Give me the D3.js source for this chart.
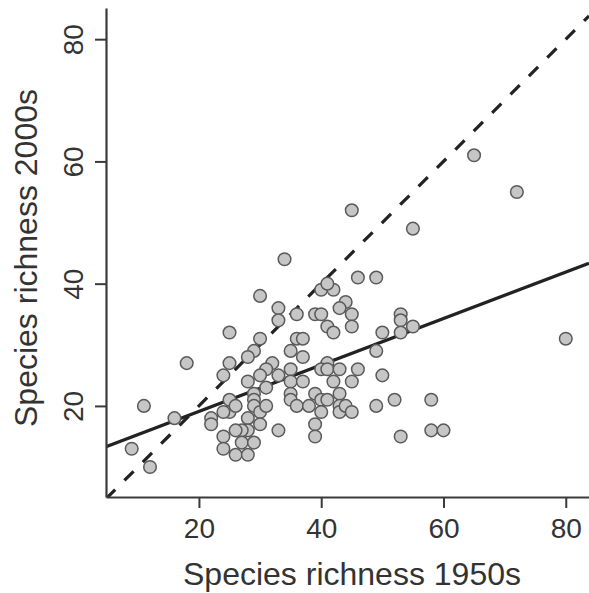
<!DOCTYPE html>
<html><head><meta charset="utf-8">
<script src="https://cdn.jsdelivr.net/npm/d3@7"></script>
<style>
html,body{margin:0;padding:0;background:#fff;}
svg text{font-family:"Liberation Sans",Arial,Helvetica,sans-serif;fill:#333;}
</style></head>
<body><svg id="c" width="589" height="593"></svg>
<script>
// 1950s richness (x) and 2000s richness (y) per site
const richness1950s = [9,12,11,16,18,25,30,34,45,55,65,72,80,46,49,40,42,41,44,43,45,45,39,40,41,42,53,53,55,53,50,49,50,52,58,53,58,60,49,46,45,
  33,33,36,30,36,37,35,37,29,28,25,32,31,30,33,35,35,37,35,35,36,24,28,29,29,29,30,31,28,30,28,27,26,24,27,29,24,26,28,33,25,25,26,24,22,22,
  41,40,41,43,42,39,43,40,41,38,40,43,43,44,45,39,39,31];
const richness2000s = [13,10,20,18,27,32,38,44,52,49,61,55,31,41,41,39,39,40,37,36,35,33,35,35,33,32,35,34,33,32,32,29,25,21,21,15,16,16,20,26,24,
  36,34,35,31,31,31,29,28,29,28,27,27,26,25,25,26,24,24,22,21,20,25,24,22,21,20,19,20,18,17,16,16,16,15,14,14,13,12,12,16,21,19,20,19,18,17,
  27,26,26,26,24,22,22,21,21,20,19,20,19,20,19,17,15,23];
const xTicks = [20,40,60,80];
const yTicks = [20,40,60,80];
const xDomain = [4.8, 83.8];
const yDomain = [5.1, 85.1];
const fitIntercept = 11.5, fitSlope = 0.38;
const xLabel = "Species richness 1950s";
const yLabel = "Species richness 2000s";

const svg = d3.select("#c");
const x = d3.scaleLinear().domain(xDomain).range([106, 589]);
const y = d3.scaleLinear().domain(yDomain).range([497, 8]);

svg.append("clipPath").attr("id","clip").append("rect")
  .attr("x",106).attr("y",8).attr("width",483).attr("height",489);
const g = svg.append("g").attr("clip-path","url(#clip)");
// 1:1 line
g.append("line")
  .attr("x1", x(xDomain[0])).attr("y1", y(xDomain[0]))
  .attr("x2", x(xDomain[1])).attr("y2", y(xDomain[1]))
  .attr("stroke","#222").attr("stroke-width",3.2).attr("stroke-dasharray","13,13");
// fitted regression
g.append("line")
  .attr("x1", x(xDomain[0])).attr("y1", y(fitIntercept + fitSlope*xDomain[0]))
  .attr("x2", x(xDomain[1])).attr("y2", y(fitIntercept + fitSlope*xDomain[1]))
  .attr("stroke","#222").attr("stroke-width",3.2);

// points
const pts = richness1950s.map((v,i)=>({x:v,y:richness2000s[i]}));
svg.append("g").selectAll("circle").data(pts).join("circle")
  .attr("cx", d=>x(d.x)).attr("cy", d=>y(d.y)).attr("r", 6.3)
  .attr("fill","#c6c6c6").attr("stroke","#5a5a5a").attr("stroke-width",1.5);

// axes
const xa = svg.append("g").attr("transform","translate(0,497)")
  .call(d3.axisBottom(x).tickValues(xTicks).tickSize(11).tickSizeOuter(0).tickPadding(10));
xa.selectAll("text").attr("font-size",28).attr("dy","0.71em");
const ya = svg.append("g").attr("transform","translate(106,0)")
  .call(d3.axisLeft(y).tickValues(yTicks).tickSize(11).tickSizeOuter(0));
ya.selectAll(".tick text").attr("font-size",28).attr("text-anchor","middle")
  .attr("transform","rotate(-90)").attr("x",0).attr("y",-23).attr("dy","0em");
[xa,ya].forEach(a=>{
  a.selectAll("path.domain").attr("stroke","#3a3a3a").attr("stroke-width",2.2);
  a.selectAll(".tick line").attr("stroke","#3a3a3a").attr("stroke-width",2);
});

svg.append("text").attr("x",352).attr("y",585).attr("text-anchor","middle")
  .attr("font-size",32).text(xLabel);
svg.append("text").attr("transform","translate(37,258) rotate(-90)")
  .attr("text-anchor","middle").attr("font-size",32).text(yLabel);
</script></body></html>
